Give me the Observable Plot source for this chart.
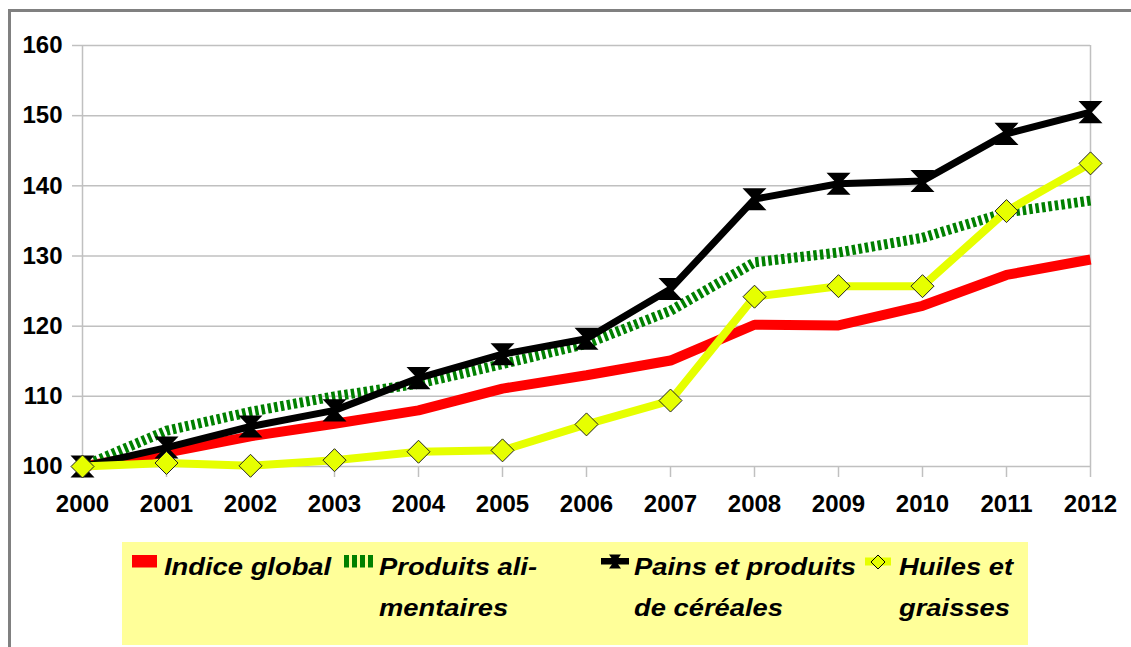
<!DOCTYPE html>
<html>
<head>
<meta charset="utf-8">
<script src="https://cdn.jsdelivr.net/npm/d3@7"></script>
<script src="https://cdn.jsdelivr.net/npm/@observablehq/plot@0.6"></script>
<style>
  html, body { margin: 0; padding: 0; background: #fff; }
  #wrap { position: relative; width: 1131px; height: 647px; overflow: hidden; background: #fff; }
  #frame { position: absolute; left: 8px; top: 9px; width: 1200px; height: 700px;
           border-top: 3px solid #808080; border-left: 3px solid #808080; pointer-events: none; }
  #chart { position: absolute; left: 0; top: 0; }
  #legend { position: absolute; left: 122px; top: 542px; width: 906px; height: 103px; background: #FFFF99; }
  #legend text { font-family: "Liberation Sans", Arial, sans-serif; font-weight: bold; font-style: italic; font-size: 23px; fill: #000; }
</style>
</head>
<body>
<div id="wrap">
  <div id="chart"></div>
  <div id="frame"></div>
  <div id="legend"></div>
</div>
<script>
// ---- data ----
const years = [2000, 2001, 2002, 2003, 2004, 2005, 2006, 2007, 2008, 2009, 2010, 2011, 2012];
const indiceGlobal = [100, 102.0, 104.3, 106.1, 108.0, 111.1, 113.0, 115.1, 120.2, 120.1, 122.9, 127.3, 129.5];
const produitsAlimentaires = [100, 105.1, 107.8, 110.0, 111.8, 114.6, 117.5, 122.2, 129.1, 130.5, 132.6, 136.2, 137.9];
const painsCereales = [100, 102.7, 105.7, 108.0, 112.6, 116.0, 118.2, 125.3, 138.1, 140.3, 140.7, 147.4, 150.5];
const huilesGraisses = [100, 100.5, 100.1, 100.9, 102.1, 102.3, 106.0, 109.4, 124.2, 125.7, 125.7, 136.4, 143.2];
const yTicks = [100, 110, 120, 130, 140, 150, 160];
const seriesNames = ["Indice global", "Produits alimentaires", "Pains et produits de céréales", "Huiles et graisses"];
const legendLines = [["Indice global"], ["Produits ali-", "mentaires"], ["Pains et produits", "de céréales"], ["Huiles et", "graisses"]];

const rows = (vals) => years.map((yr, i) => ({year: yr, value: vals[i]}));

// custom marker symbols
const hourglass = {
  draw(ctx, size) {
    const r = Math.sqrt(size / Math.PI);
    const h = r * 0.92;
    ctx.moveTo(-r, -h); ctx.lineTo(r, -h); ctx.lineTo(1.5, 0); ctx.lineTo(r, h);
    ctx.lineTo(-r, h); ctx.lineTo(-1.5, 0); ctx.closePath();
  }
};
const squareDiamond = {
  draw(ctx, size) {
    const r = Math.sqrt(size / Math.PI);
    ctx.moveTo(0, -r); ctx.lineTo(r, 0); ctx.lineTo(0, r); ctx.lineTo(-r, 0); ctx.closePath();
  }
};

const YELLOW = "#E6FF00";
const lineOpts = {x: "year", y: "value", strokeLinecap: "butt", strokeLinejoin: "miter"};

const chart = Plot.plot({
  width: 1131,
  height: 647,
  marginLeft: 82,
  marginRight: 41,
  marginTop: 45,
  marginBottom: 181,
  x: {domain: [2000, 2012]},
  y: {domain: [100, 160]},
  style: {fontFamily: "'Liberation Sans', Arial, sans-serif", background: "transparent", color: "#000"},
  marks: [
    Plot.ruleY(yTicks, {stroke: "#c0c0c0", strokeWidth: 1.5}),
    Plot.ruleX([2000, 2012], {stroke: "#c0c0c0", strokeWidth: 1.5}),
    Plot.axisY({ticks: yTicks, tickSize: 10, tickPadding: 10, stroke: "#c0c0c0", strokeWidth: 1.5, fill: "#000",
                fontSize: 24, fontWeight: "bold", tickFormat: d => String(d), label: null}),
    Plot.axisX({ticks: years, tickSize: 11, tickPadding: 17, stroke: "#c0c0c0", strokeWidth: 1.5, fill: "#000",
                fontSize: 24, fontWeight: "bold", tickFormat: d => String(d), label: null}),
    Plot.line(rows(indiceGlobal), {...lineOpts, stroke: "#FF0000", strokeWidth: 10}),
    Plot.line(rows(produitsAlimentaires), {...lineOpts, stroke: "#008000", strokeWidth: 10, strokeDasharray: "3.5,3"}),
    Plot.line(rows(painsCereales), {...lineOpts, stroke: "#000", strokeWidth: 7}),
    Plot.dot(rows(painsCereales), {x: "year", y: "value", symbol: hourglass, r: 12, fill: "#000", stroke: "none"}),
    Plot.line(rows(huilesGraisses), {...lineOpts, stroke: YELLOW, strokeWidth: 8}),
    Plot.dot(rows(huilesGraisses), {x: "year", y: "value", symbol: squareDiamond, r: 11.5, fill: YELLOW, stroke: "#222", strokeWidth: 1})
  ]
});
document.getElementById("chart").appendChild(chart);

// ---- legend ----
const NS = "http://www.w3.org/2000/svg";
const leg = document.createElementNS(NS, "svg");
leg.setAttribute("width", 906);
leg.setAttribute("height", 103);
const ox = 122, oy = 542;
const swatchX = [132, 344, 601, 865];
const textX = [164, 379, 634, 899];
const baselines = [575, 616];
let html = "";
// red swatch
html += `<rect x="${swatchX[0]-ox}" y="${555-oy}" width="25" height="12.5" fill="#FF0000"/>`;
// green swatch: 4 bars
for (let i = 0; i < 4; i++) html += `<rect x="${swatchX[1]-ox + i*8}" y="${555-oy}" width="5" height="12.5" fill="#008000"/>`;
// black swatch
html += `<rect x="${swatchX[2]-ox}" y="${558-oy}" width="28" height="6.5" fill="#000"/>`;
html += `<path transform="translate(${615-ox},${561.5-oy})" d="M-6,-7L6,-7L1,0L6,7L-6,7L-1,0Z" fill="#000"/>`;
// yellow swatch
html += `<rect x="${swatchX[3]-ox}" y="${557.5-oy}" width="26" height="8" fill="${YELLOW}"/>`;
html += `<path transform="translate(${878-ox},${562-oy})" d="M0,-7L7,0L0,7L-7,0Z" fill="${YELLOW}" stroke="#000" stroke-width="1"/>`;
legendLines.forEach((lines, i) => {
  lines.forEach((t, j) => {
    html += `<text transform="translate(${textX[i]-ox},${baselines[j]-oy}) scale(1.19,1)">${t}</text>`;
  });
});
leg.innerHTML = html;
document.getElementById("legend").appendChild(leg);
</script>
</body>
</html>
